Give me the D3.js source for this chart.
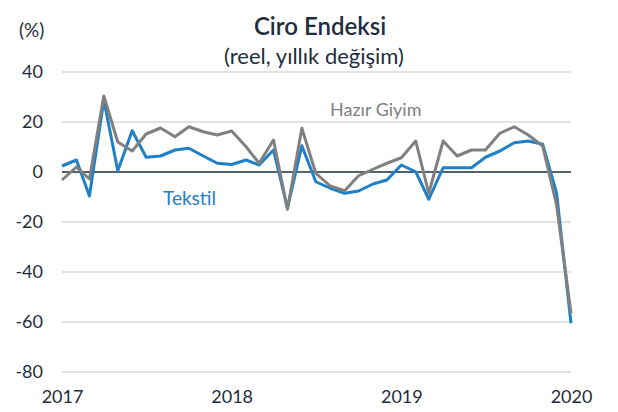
<!DOCTYPE html>
<html>
<head>
<meta charset="utf-8">
<script src="https://cdn.jsdelivr.net/npm/d3@7"></script>
<style>
  body { margin: 0; background: #fff; }
  text { font-family: Lato, "Open Sans", sans-serif; fill: #1f2d3d; }
</style>
</head>
<body>
<div id="chart"></div>
<script>
// monthly, Jan 2017 .. Jan 2020
var startMonth = new Date(2017, 0, 1);
var tekstil = [2.4, 4.8, -9.6, 28.8, 0.5, 16.5, 5.9, 6.4, 8.8, 9.5, 6.4, 3.5,
               3.0, 4.8, 2.8, 8.8, -14.5, 10.5, -3.9, -6.5, -8.5, -7.6, -4.8, -3.2,
               2.8, 0.1, -10.9, 1.7, 1.7, 1.7, 5.9, 8.4, 11.7, 12.4, 11.1, -8.5,
               -60.5];
var hazirGiyim = [-3.2, 2.0, -2.8, 30.4, 12.0, 8.4, 15.2, 17.6, 14.1, 18.1, 16.1, 14.8,
                  16.4, 10.1, 3.5, 12.8, -14.9, 17.5, -0.5, -5.6, -7.5, -1.5, 1.1, 3.5,
                  5.7, 12.4, -8.5, 12.4, 6.4, 8.8, 8.8, 15.5, 18.1, 14.8, 10.4, -13.2,
                  -56.5];
var yTicks = [40, 20, 0, -20, -40, -60, -80];
var xTickYears = [2017, 2018, 2019, 2020];

(function(){
    var width = 618, height = 412;

    var svg = d3.select("#chart")
        .append("svg")
        .attr("width", width)
        .attr("height", height);

    var dates = tekstil.map(function(d, i){ return d3.timeMonth.offset(startMonth, i); });

    var x = d3.scaleTime()
        .domain([dates[0], dates[dates.length - 1]])
        .range([62, 571]);
    var y = d3.scaleLinear()
        .domain([-80, 40])
        .range([372, 72]);

    // gridlines
    svg.append("g")
        .selectAll("line")
        .data(yTicks.filter(function(d){ return d !== 0; }))
        .enter()
        .append("line")
        .attr("x1", x.range()[0])
        .attr("x2", x.range()[1])
        .attr("y1", function(d){ return y(d); })
        .attr("y2", function(d){ return y(d); })
        .attr("stroke", "#d9d9d9")
        .attr("stroke-width", 1.5);

    // zero line
    svg.append("line")
        .attr("x1", x.range()[0])
        .attr("x2", x.range()[1])
        .attr("y1", y(0))
        .attr("y2", y(0))
        .attr("stroke", "#1c2b3a")
        .attr("stroke-width", 1.3);

    // y axis labels (plain hyphen for negatives, like the original)
    var yAxis = d3.axisLeft(y)
        .tickValues(yTicks)
        .tickFormat(function(d){ return String(d); })
        .tickSize(0).tickPadding(0);
    svg.append("g")
        .attr("transform", "translate(43,0)")
        .call(yAxis)
        .call(function(g){ g.select(".domain").remove(); })
        .selectAll("text")
        .attr("font-family", "Lato, sans-serif")
        .attr("font-size", 18)
        .attr("fill", "#1f2d3d");

    // x axis labels
    var xAxis = d3.axisBottom(x)
        .tickValues(xTickYears.map(function(yr){ return new Date(yr, 0, 1); }))
        .tickFormat(d3.timeFormat("%Y"))
        .tickSize(0).tickPadding(0);
    svg.append("g")
        .attr("transform", "translate(0,390)")
        .call(xAxis)
        .call(function(g){ g.select(".domain").remove(); })
        .selectAll("text")
        .attr("font-family", "Lato, sans-serif")
        .attr("font-size", 18)
        .attr("fill", "#1f2d3d");

    var line = d3.line()
        .x(function(d, i){ return x(dates[i]); })
        .y(function(d){ return y(d); });

    svg.append("path")
        .datum(tekstil)
        .attr("fill", "none")
        .attr("stroke", "#1f80c8")
        .attr("stroke-width", 3)
        .attr("stroke-linejoin", "round")
        .attr("d", line);

    svg.append("path")
        .datum(hazirGiyim)
        .attr("fill", "none")
        .attr("stroke", "#808080")
        .attr("stroke-width", 3)
        .attr("stroke-linejoin", "round")
        .attr("d", line);

    // series labels
    svg.append("text")
        .attr("x", 163).attr("y", 205)
        .attr("font-size", 19)
        .style("fill", "#1f80c8")
        .text("Tekstil");
    svg.append("text")
        .attr("x", 330).attr("y", 116)
        .attr("font-size", 18)
        .style("fill", "#808080")
        .text("Hazır Giyim");

    // titles
    svg.append("text")
        .attr("x", 320).attr("y", 35)
        .attr("text-anchor", "middle")
        .attr("font-size", 24)
        .attr("font-weight", 600)
        .text("Ciro Endeksi");
    svg.append("text")
        .attr("x", 314).attr("y", 64)
        .attr("text-anchor", "middle")
        .attr("font-size", 22)
        .text("(reel, yıllık değişim)");
    svg.append("text")
        .attr("x", 19).attr("y", 37)
        .attr("font-size", 19)
        .text("(%)");
})();
</script>
</body>
</html>
